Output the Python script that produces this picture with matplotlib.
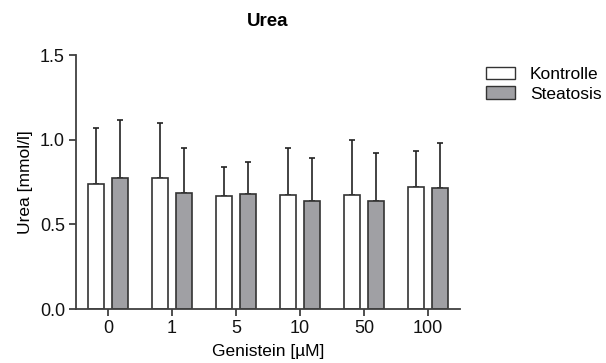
import numpy as np
import matplotlib
matplotlib.use("Agg")
from matplotlib import pyplot as plt
from matplotlib.patches import Patch

plt.rcParams['font.family'] = ['Liberation Sans', 'DejaVu Sans']

categories = ['0', '1', '5', '10', '50', '100']
kontrolle = [0.737, 0.774, 0.667, 0.671, 0.671, 0.720]
kontrolle_sd = [0.330, 0.325, 0.170, 0.278, 0.325, 0.213]
steatosis = [0.774, 0.683, 0.677, 0.636, 0.640, 0.715]
steatosis_sd = [0.342, 0.270, 0.193, 0.256, 0.283, 0.267]

edge = '#333333'
gray = '#a0a0a4'

fig = plt.figure(figsize=(6.06, 3.63), dpi=100)
ax = fig.add_axes([76 / 606, 1 - 309 / 363, 384 / 606, 254 / 363])

x = np.arange(len(categories))
w = 0.25
off = 0.1875
lo = np.zeros(len(categories))

ax.bar(x - off, kontrolle, w, color='white', edgecolor=edge, linewidth=1.2, zorder=2)
ax.bar(x + off, steatosis, w, color=gray, edgecolor=edge, linewidth=1.2, zorder=2)
ax.errorbar(x - off, kontrolle, yerr=[lo, kontrolle_sd], fmt='none', ecolor='#222222',
            elinewidth=1.2, capsize=2.5, capthick=1.2, zorder=1)
ax.errorbar(x + off, steatosis, yerr=[lo, steatosis_sd], fmt='none', ecolor='#222222',
            elinewidth=1.2, capsize=2.5, capthick=1.2, zorder=1)

ax.set_xlim(-0.5, 5.5)
ax.set_ylim(0, 1.5)
ax.set_xticks(x)
ax.set_xticklabels(categories)
ax.set_yticks([0, 0.5, 1.0, 1.5])
ax.set_yticklabels(['0.0', '0.5', '1.0', '1.5'])

for s in ['top', 'right']:
    ax.spines[s].set_visible(False)
for s in ['left', 'bottom']:
    ax.spines[s].set_color('#404040')
    ax.spines[s].set_linewidth(1.3)
ax.tick_params(direction='out', length=5, width=1.3, color='#404040', labelsize=13,
               labelcolor='#111111', pad=3)

ax.set_ylabel('Urea [mmol/l]', fontsize=12.5, labelpad=5)
ax.set_xlabel('Genistein [µM]', fontsize=12.5, labelpad=5)
ax.set_title('Urea', fontsize=13.5, fontweight='bold', pad=21)

handles = [Patch(facecolor='white', edgecolor=edge, linewidth=1.0, label='Kontrolle'),
           Patch(facecolor=gray, edgecolor=edge, linewidth=1.0, label='Steatosis')]
fig.legend(handles=handles, loc='upper left', bbox_to_anchor=(479 / 606, 1 - 60 / 363),
           frameon=False, fontsize=12.5, handlelength=1.67, handleheight=0.7,
           handletextpad=0.85, labelspacing=0.25, borderaxespad=0)

fig.savefig('out.png', dpi=100)
